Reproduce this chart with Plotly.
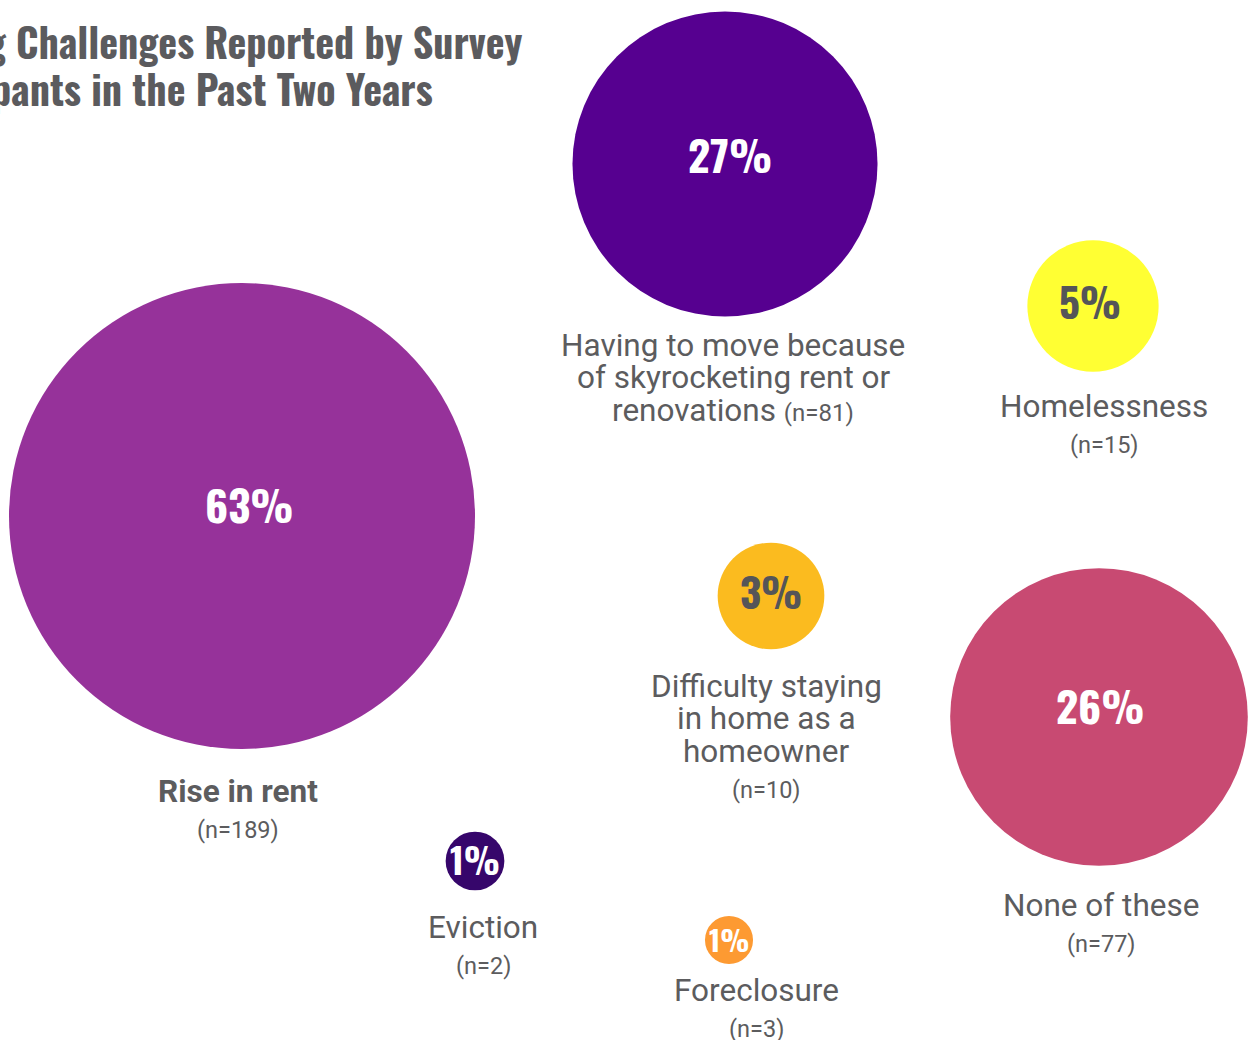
import plotly.graph_objects as go

# Survey responses: housing challenges in the past two years
categories = [
    "Rise in rent",
    "Having to move because of skyrocketing rent or renovations",
    "Homelessness",
    "Difficulty staying in home as a homeowner",
    "None of these",
    "Eviction",
    "Foreclosure",
]
respondents = [189, 81, 15, 10, 77, 2, 3]
pct_labels = ["63%", "27%", "5%", "3%", "26%", "1%", "1%"]
bubble_share = [63.0, 27.0, 5.0, 3.3, 25.7, 1.0, 0.67]

# wrapped label lines for each category
label_lines = [
    ["Rise in rent"],
    ["Having to move because", "of skyrocketing rent or", "renovations"],
    ["Homelessness"],
    ["Difficulty staying", "in home as a", "homeowner"],
    ["None of these"],
    ["Eviction"],
    ["Foreclosure"],
]

# bubble layout (pixel space) and label anchors
centers_x = [242, 725, 1093, 771, 1099, 475, 729]
centers_y = [516, 164, 306, 596, 717, 861, 940]
label_x = [238, 733, 1104, 766, 1101, 483, 756]
label_y = [791, 345, 406, 686, 905, 927, 990]

colors = ["#96329a", "#560090", "#ffff33", "#fbbb1f", "#c84a72", "#36066b", "#fd9a32"]
pct_colors = ["#ffffff", "#ffffff", "#555558", "#555558", "#ffffff", "#ffffff", "#ffffff"]
pct_sizes = [43, 43, 41, 41, 43, 36, 29]
pct_dx = [7, 5, -3, 0, 1, 0, 0]
pct_dy = [-13, -11, -6, -6, -13, -3, -2]

W, H = 1248, 1040
MAX_DIAM = 466
COND = "Oswald, 'Liberation Sans Narrow', 'DejaVu Sans Condensed', sans-serif"
LABEL_FONT = "Roboto, 'Noto Sans', sans-serif"
GREY = "#5c5c5e"

fig = go.Figure()
fig.add_trace(go.Scatter(
    x=centers_x,
    y=centers_y,
    mode="markers",
    marker=dict(
        size=bubble_share,
        sizemode="area",
        sizeref=2.0 * max(bubble_share) / MAX_DIAM ** 2,
        color=colors,
        opacity=1,
        line=dict(width=0),
    ),
    hovertext=categories,
    hoverinfo="text",
    cliponaxis=False,
    showlegend=False,
))

annotations = []

# percentage inside each bubble
for i, t in enumerate(pct_labels):
    annotations.append(dict(
        x=centers_x[i], y=centers_y[i], xref="x", yref="y",
        text=f"<b>{t}</b>", showarrow=False,
        xanchor="center", yanchor="middle",
        xshift=pct_dx[i], yshift=-pct_dy[i],
        font=dict(family=COND, size=pct_sizes[i], color=pct_colors[i]),
    ))

LINE_STEP = 32.5
for i, lines in enumerate(label_lines):
    n_txt = f"(n={respondents[i]})"
    bold = i == 0
    for j, line in enumerate(lines):
        txt = f"<b>{line}</b>" if bold else line
        if i == 1 and j == len(lines) - 1:
            txt = f"{line} <span style='font-size:24px'>{n_txt}</span>"
        annotations.append(dict(
            x=label_x[i], y=label_y[i] + j * LINE_STEP,
            xref="x", yref="y", text=txt, showarrow=False,
            xanchor="center", yanchor="middle",
            font=dict(family=LABEL_FONT, size=31.5, color=GREY),
        ))
    if i != 1:
        annotations.append(dict(
            x=label_x[i], y=label_y[i] + (len(lines) - 1) * LINE_STEP + 38.5,
            xref="x", yref="y", text=n_txt, showarrow=False,
            xanchor="center", yanchor="middle",
            font=dict(family=LABEL_FONT, size=23.5, color=GREY),
        ))

# title, two lines, right ends fixed
title_lines = ["Housing Challenges Reported by Survey", "Participants in the Past Two Years"]
title_right = [524, 435]
title_y = [41, 88]
for t, xr, yc in zip(title_lines, title_right, title_y):
    annotations.append(dict(
        x=xr, y=yc, xref="x", yref="y", text=f"<b>{t}</b>", showarrow=False,
        xanchor="right", yanchor="middle",
        font=dict(family=COND, size=40, color="#5b5b5e"),
    ))

fig.update_layout(
    width=W, height=H,
    margin=dict(l=0, r=0, t=0, b=0),
    paper_bgcolor="white",
    plot_bgcolor="white",
    xaxis=dict(range=[0, W], visible=False, fixedrange=True),
    yaxis=dict(range=[H, 0], visible=False, fixedrange=True),
    annotations=annotations,
)

fig.write_html("out.html")
